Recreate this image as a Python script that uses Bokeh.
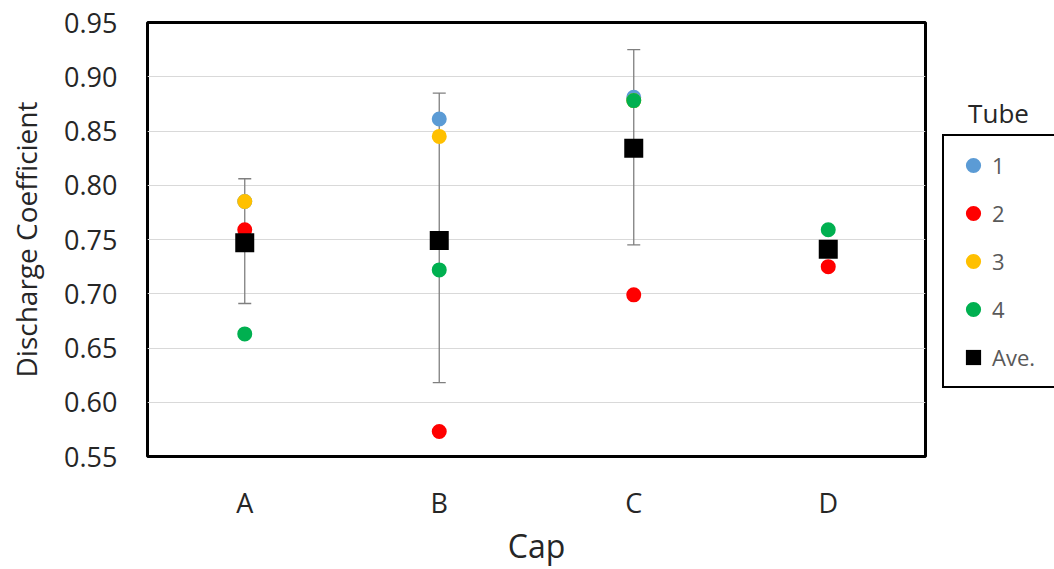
from bokeh.plotting import figure
from bokeh.layouts import row
from bokeh.models import (ColumnDataSource, Whisker, Legend, LegendItem, Label, TeeHead,
                          FixedTicker, Range1d)
from bokeh.embed import file_html
from bokeh.resources import INLINE
import numpy as np

caps = ["A", "B", "C", "D"]
tube1 = [0.785, 0.861, 0.881, np.nan]
tube2 = [0.759, 0.573, 0.699, 0.725]
tube3 = [0.785, 0.845, 0.878, np.nan]
tube4 = [0.663, 0.722, 0.878, 0.759]
average = [0.747, 0.749, 0.834, 0.741]
err_caps = ["A", "B", "C"]
err_upper = [0.806, 0.885, 0.925]
err_lower = [0.691, 0.618, 0.745]
y_ticks = [0.55, 0.60, 0.65, 0.70, 0.75, 0.80, 0.85, 0.90, 0.95]
series_labels = ["1", "2", "3", "4", "Ave."]
series_colors = ["#5B9BD5", "#FF0000", "#FFC000", "#00B050", "black"]

FONT = "Open Sans"
H = 569
TOP, BOTTOM = 22, 113

p = figure(x_range=caps, y_range=(0.55, 0.95), width=930, height=H,
           min_border_left=147, min_border_right=5, min_border_top=TOP, min_border_bottom=BOTTOM,
           output_backend="svg", toolbar_location=None, background_fill_color="white")

p.outline_line_color = "black"
p.outline_line_width = 3
p.xgrid.grid_line_color = None
p.ygrid.grid_line_color = "#D9D9D9"
p.ygrid.grid_line_width = 1

p.yaxis.ticker = FixedTicker(ticks=y_ticks)
p.yaxis.major_label_overrides = {t: f"{t:.2f}" for t in y_ticks}
for ax in (p.xaxis, p.yaxis):
    ax.axis_line_color = None
    ax.major_tick_line_color = None
    ax.minor_tick_line_color = None
    ax.major_tick_out = 0
    ax.major_tick_in = 0
    ax.major_label_text_font = FONT
    ax.major_label_text_color = "#262626"
    ax.axis_label_text_font = FONT
    ax.axis_label_text_font_style = "normal"
    ax.axis_label_text_color = "#262626"

p.yaxis.major_label_text_font_size = "27px"
p.xaxis.major_label_text_font_size = "27px"
p.yaxis.axis_label = "Discharge Coefficient"
p.yaxis.axis_label_text_font_size = "28px"
p.yaxis.major_label_standoff = 30
p.yaxis.axis_label_standoff = 16
p.xaxis.axis_label = "Cap"
p.xaxis.axis_label_text_font_size = "32px"
p.xaxis.major_label_standoff = 27
p.xaxis.axis_label_standoff = 0

src = ColumnDataSource(dict(cap=caps, t1=tube1, t2=tube2, t3=tube3, t4=tube4, ave=average))
esrc = ColumnDataSource(dict(cap=err_caps, up=err_upper, lo=err_lower))

w = Whisker(base="cap", upper="up", lower="lo", source=esrc, dimension="height",
            line_color="#7F7F7F", line_width=1.3,
            upper_head=TeeHead(size=13, line_color="#7F7F7F", line_width=1.3),
            lower_head=TeeHead(size=13, line_color="#7F7F7F", line_width=1.3))
p.add_layout(w)

renderers = []
for col, color in zip(["t1", "t2", "t3", "t4"], series_colors[:4]):
    renderers.append(p.scatter("cap", col, source=src, size=15, color=color, line_color=None))
renderers.append(p.scatter("cap", "ave", source=src, size=19, marker="square",
                           color=series_colors[4], line_color=None))

# legend panel to the right of the chart; its frame spans the same rows as the chart's
W2 = 124
q = figure(width=W2, height=H, x_range=Range1d(0, W2), y_range=Range1d(BOTTOM, H - TOP),
           min_border_left=0, min_border_right=0, min_border_top=TOP, min_border_bottom=BOTTOM,
           output_backend="svg", toolbar_location=None)
q.axis.visible = False
q.grid.visible = False
q.outline_line_color = None

legend_renderers = []
for color, lab in zip(series_colors, series_labels):
    marker = "square" if lab == "Ave." else "circle"
    legend_renderers.append(q.scatter([np.nan], [np.nan], marker=marker, color=color, line_color=None))

legend = Legend(items=[LegendItem(label=l, renderers=[r]) for l, r in zip(series_labels, legend_renderers)],
                location=(12, (H - BOTTOM) - 387 - 1), border_line_color="black", border_line_width=2,
                border_line_alpha=1,
                label_text_font=FONT, label_text_font_size="22px", label_text_color="#595959",
                glyph_height=38, glyph_width=38, label_height=38, label_width=80,
                spacing=10, padding=10, margin=0, label_standoff=0, background_fill_alpha=1)
q.add_layout(legend)

q.add_layout(Label(x=W2 / 2 + 6, y=H - 112, text="Tube", text_align="center",
                   text_baseline="middle", text_font=FONT, text_font_size="26px",
                   text_color="#262626"))

layout = row(p, q, spacing=0)
open("out.html", "w").write(file_html(layout, INLINE))
